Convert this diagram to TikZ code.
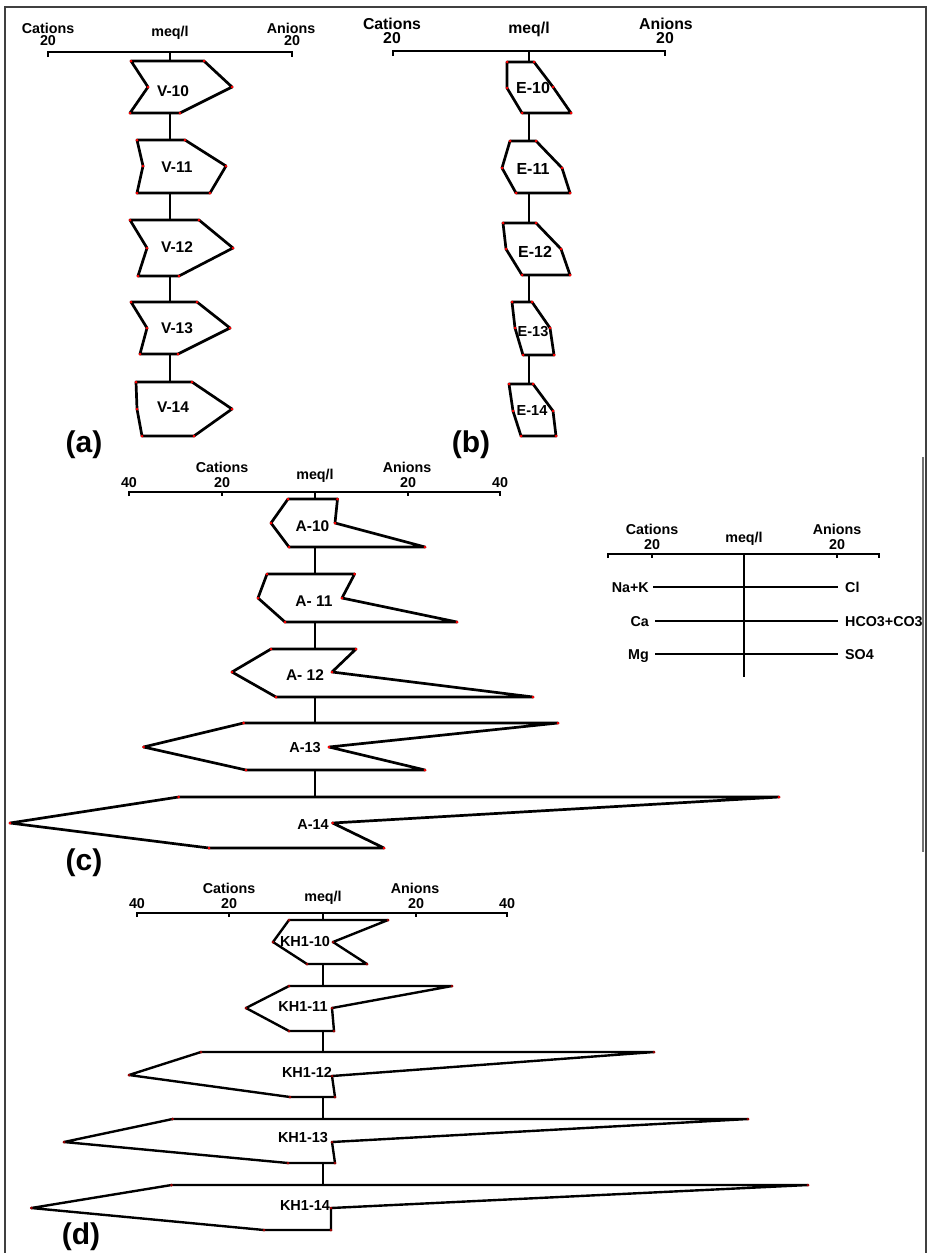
\documentclass[tikz,border=0pt]{standalone}
\usepackage{fontspec}
\setmainfont{Liberation Sans}
\begin{document}
\begin{tikzpicture}[x=1pt,y=-1pt,
  poly/.style={draw=black,line width=2.7pt,line join=round},
  ax/.style={draw=black,line width=2.8pt},
  conn/.style={draw=black,line width=2.8pt},
  dotc/.style={fill=red},
  frame/.style={draw=black!75,line width=1.6pt},
  hd/.style={font=\bfseries\fontsize{14.3}{16}\selectfont,inner sep=0pt,anchor=base},
  hdb/.style={font=\bfseries\fontsize{15.8}{18}\selectfont,inner sep=0pt,anchor=base},
  lab/.style={font=\bfseries\fontsize{15.5}{17}\selectfont,inner sep=0pt},
  labd/.style={font=\bfseries\fontsize{14.5}{16}\selectfont,inner sep=0pt},
  pan/.style={font=\bfseries\fontsize{30}{34}\selectfont,inner sep=0pt},
  leg/.style={font=\bfseries\fontsize{14.3}{16}\selectfont,inner sep=0pt}
]
\newcommand\stiffshape[6]{%
  \draw[poly] (#1) -- (#2) -- (#3) -- (#4) -- (#5) -- (#6) -- cycle;
  \fill[dotc] (#1) circle (1.5pt); \fill[dotc] (#2) circle (1.5pt);
  \fill[dotc] (#3) circle (1.5pt); \fill[dotc] (#4) circle (1.5pt);
  \fill[dotc] (#5) circle (1.5pt); \fill[dotc] (#6) circle (1.5pt);}
\useasboundingbox (0,0) rectangle (929,1253);
% frame
\draw[frame] (5,1253) -- (5,7) -- (926,7) -- (926,1253);
\draw[draw=black!55,line width=1.2pt] (923,457) -- (923,852);

% ---------------- panel (a)
\node[hd] (aC) at (48,33) {Cations};
\node[hd] (aCn) at (48,45) {20};
\node[hd] (aM) at (170,36) {meq/l};
\node[hd] (aA) at (291,33) {Anions};
\node[hd] (aAn) at (292,45) {20};
\draw[ax] (48,57) -- (48,52) -- (292,52) -- (292,57);
\coordinate (a0) at (170,52);
\stiffshape{131,61}{204,61}{232,87}{180,113}{130,113}{148,87}
\stiffshape{137,140}{185,140}{226,166}{210,193}{137,193}{143,166}
\stiffshape{130,220}{199,220}{233,248}{179,276}{138,276}{147,248}
\stiffshape{131,302}{197,302}{230,328}{178,354}{140,354}{147,328}
\stiffshape{136,382}{192,382}{232,409}{194,436}{142,436}{137,409}
\coordinate (v10t) at (170,61); \coordinate (v10b) at (170,113);
\coordinate (v11t) at (170,140); \coordinate (v11b) at (170,193);
\coordinate (v12t) at (170,220); \coordinate (v12b) at (170,276);
\coordinate (v13t) at (170,302); \coordinate (v13b) at (170,354);
\coordinate (v14t) at (170,382);
\draw[conn] (a0) -- (v10t);
\draw[conn] (v10b) -- (v11t);
\draw[conn] (v11b) -- (v12t);
\draw[conn] (v12b) -- (v13t);
\draw[conn] (v13b) -- (v14t);
\node[lab] (lv10) at (173,91) {V-10};
\node[lab] (lv11) at (177,167) {V-11};
\node[lab] (lv12) at (177,247) {V-12};
\node[lab] (lv13) at (177,328) {V-13};
\node[lab] (lv14) at (173,407) {V-14};
\node[pan] (pa) at (84,445) {(a)};

% ---------------- panel (b)
\node[hdb] (bC) at (392,29) {Cations};
\node[hdb] (bCn) at (392,43) {20};
\node[hdb] (bM) at (529,33) {meq/l};
\node[hdb] (bA) at (666,29) {Anions};
\node[hdb] (bAn) at (665,43) {20};
\draw[ax] (393,56) -- (393,51) -- (665,51) -- (665,56);
\coordinate (b0) at (529,51);
\stiffshape{507,62}{534,62}{553,87}{571,113}{522,113}{507,88}
\stiffshape{510,141}{536,141}{562,168}{570,193}{516,193}{502,168}
\stiffshape{503,223}{536,223}{561,249}{570,275}{522,275}{506,249}
\stiffshape{512,302}{532,302}{550,328}{554,355}{523,355}{515,328}
\stiffshape{509,384}{533,384}{553,411}{556,436}{521,436}{513,411}
\coordinate (e10t) at (529,62); \coordinate (e10b) at (529,113);
\coordinate (e11t) at (529,141); \coordinate (e11b) at (529,193);
\coordinate (e12t) at (529,223); \coordinate (e12b) at (529,275);
\coordinate (e13t) at (529,302); \coordinate (e13b) at (529,355);
\coordinate (e14t) at (529,384);
\draw[conn] (b0) -- (e10t);
\draw[conn] (e10b) -- (e11t);
\draw[conn] (e11b) -- (e12t);
\draw[conn] (e12b) -- (e13t);
\draw[conn] (e13b) -- (e14t);
\node[lab,font=\bfseries\fontsize{16}{18}\selectfont] (le10) at (533,88) {E-10};
\node[lab,font=\bfseries\fontsize{16}{18}\selectfont] (le11) at (533,169) {E-11};
\node[lab,font=\bfseries\fontsize{16}{18}\selectfont] (le12) at (535,252) {E-12};
\node[lab,font=\bfseries\fontsize{14.5}{16}\selectfont] (le13) at (533,332) {E-13};
\node[lab,font=\bfseries\fontsize{14.5}{16}\selectfont] (le14) at (532,411) {E-14};
\node[pan] (pb) at (471,445) {(b)};

% ---------------- panel (c)
\node[hd] (cC) at (222,472) {Cations};
\node[hd] (cM) at (315,479) {meq/l};
\node[hd] (cA) at (407,472) {Anions};
\node[hd] (c40l) at (129,487) {40};
\node[hd] (c20l) at (222,487) {20};
\node[hd] (c20r) at (408,487) {20};
\node[hd] (c40r) at (500,487) {40};
\draw[ax] (129,496) -- (129,492) -- (500,492) -- (500,496);
\draw[ax] (222,492) -- (222,496);
\draw[ax] (408,492) -- (408,496);
\coordinate (c0) at (315,492);
\stiffshape{288,499}{337.5,499}{335,523}{425,547}{289,547}{271,523}
\stiffshape{267,574}{354.6,574}{342,598}{457,622}{285,622}{258,598}
\stiffshape{271,649}{356,649}{332,672}{533,697}{276,697}{232,672}
\stiffshape{243.6,723}{558,723}{329,747}{425,770}{246,770}{143.6,747}
\stiffshape{178.6,797}{779,797}{332.6,823}{384,848}{209,848}{10,823}
\coordinate (a10t) at (315,499); \coordinate (a10b) at (315,547);
\coordinate (a11t) at (315,574); \coordinate (a11b) at (315,622);
\coordinate (a12t) at (315,649); \coordinate (a12b) at (315,697);
\coordinate (a13t) at (315,723); \coordinate (a13b) at (315,770);
\coordinate (a14t) at (315,797);
\draw[conn] (c0) -- (a10t);
\draw[conn] (a10b) -- (a11t);
\draw[conn] (a11b) -- (a12t);
\draw[conn] (a12b) -- (a13t);
\draw[conn] (a13b) -- (a14t);
\node[lab] (la10) at (312.5,526) {A-10};
\node[lab] (la11) at (314,601) {A- 11};
\node[lab] (la12) at (305,675) {A- 12};
\node[lab,font=\bfseries\fontsize{14.5}{16}\selectfont] (la13) at (305,748) {A-13};
\node[lab,font=\bfseries\fontsize{14.5}{16}\selectfont] (la14) at (313,825) {A-14};
\node[pan] (pc) at (84,863) {(c)};

% ---------------- legend
\node[hd] (gC) at (652,534) {Cations};
\node[hd] (gCn) at (652,549) {20};
\node[hd] (gM) at (744,542) {meq/l};
\node[hd] (gA) at (837,534) {Anions};
\node[hd] (gAn) at (837,549) {20};
\draw[ax] (608,558) -- (608,554) -- (879,554) -- (879,558);
\draw[ax] (652,554) -- (652,558);
\draw[ax] (837,554) -- (837,558);
\coordinate (g0) at (744,554);
\coordinate (g1) at (744,677);
\draw[conn] (g0) -- (g1);
\node[leg,anchor=base east] (gNa) at (649,592) {Na+K};
\node[leg,anchor=base west] (gCl) at (845,592) {Cl};
\node[leg,anchor=base east] (gCa) at (649,626) {Ca};
\node[leg,anchor=base west] (gHC) at (845,626) {HCO3+CO3};
\node[leg,anchor=base east] (gMg) at (649,659) {Mg};
\node[leg,anchor=base west] (gSO) at (845,659) {SO4};
\coordinate (n1) at (653,587); \coordinate (n2) at (838,587);
\coordinate (c1) at (655,621); \coordinate (c2) at (838,621);
\coordinate (m1) at (655,654); \coordinate (m2) at (838,654);
\draw[conn] (n1) -- (n2);
\draw[conn] (c1) -- (c2);
\draw[conn] (m1) -- (m2);

% ---------------- panel (d)
\node[hd] (dC) at (229,893) {Cations};
\node[hd] (dM) at (323,901) {meq/l};
\node[hd] (dA) at (415,893) {Anions};
\node[hd] (d40l) at (137,908) {40};
\node[hd] (d20l) at (229,908) {20};
\node[hd] (d20r) at (416,908) {20};
\node[hd] (d40r) at (507,908) {40};
\draw[ax] (137,917) -- (137,913) -- (507,913) -- (507,917);
\draw[ax] (229,913) -- (229,917);
\draw[ax] (416,913) -- (416,917);
\coordinate (d0) at (323,913);
\begin{scope}[poly/.append style={line width=2.4pt},dotc/.style={fill=red!60!black}]
\stiffshape{289,920}{388,920}{333,942}{367,964}{307,964}{273,942}
\stiffshape{289,986}{452,986}{332,1008}{334,1031}{289,1031}{246,1008}
\stiffshape{201,1052}{654,1052}{332,1076}{335,1097}{290,1097}{129,1075}
\stiffshape{172.6,1119}{748,1119}{332,1142}{335,1163}{288,1163}{64,1142}
\stiffshape{171.5,1185}{808,1185}{331,1208}{331,1230}{264,1230}{31.4,1208}
\end{scope}
\coordinate (k10t) at (323,920); \coordinate (k10b) at (323,964);
\coordinate (k11t) at (323,986); \coordinate (k11b) at (323,1031);
\coordinate (k12t) at (323,1052); \coordinate (k12b) at (323,1097);
\coordinate (k13t) at (323,1119); \coordinate (k13b) at (323,1163);
\coordinate (k14t) at (323,1185);
\draw[conn,line width=2.4pt] (d0) -- (k10t);
\draw[conn,line width=2.4pt] (k10b) -- (k11t);
\draw[conn,line width=2.4pt] (k11b) -- (k12t);
\draw[conn,line width=2.4pt] (k12b) -- (k13t);
\draw[conn,line width=2.4pt] (k13b) -- (k14t);
\node[labd] (lk10) at (305,941) {KH1-10};
\node[labd] (lk11) at (303,1006) {KH1-11};
\node[labd] (lk12) at (307,1072) {KH1-12};
\node[labd] (lk13) at (303,1138) {KH1-13};
\node[labd] (lk14) at (305,1205) {KH1-14};
\node[pan] (pd) at (81,1237) {(d)};
\end{tikzpicture}
\end{document}
